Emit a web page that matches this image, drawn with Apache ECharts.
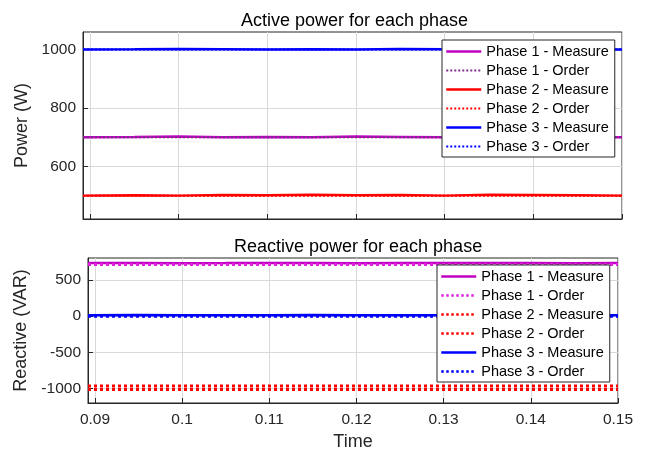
<!DOCTYPE html>
<html>
<head>
<meta charset="utf-8">
<script src="https://cdn.jsdelivr.net/npm/echarts@6/dist/echarts.min.js"></script>
<style>
  html, body { margin: 0; padding: 0; background: #fff; }
  #chart { width: 646px; height: 454px; }
</style>
</head>
<body>
<div id="chart"></div>
<script>
// sample times (s)
const timePts = [0.0892, 0.095, 0.1, 0.105, 0.11, 0.115, 0.12, 0.125, 0.13, 0.135, 0.14, 0.145, 0.15];

// active power (W)
const p1ActiveMeas = [700, 701, 702, 700, 701, 700, 702, 701, 700, 701, 700, 701, 700];
const p1ActiveOrder = [700, 700, 700, 700, 700, 700, 700, 700, 700, 700, 700, 700, 700];
const p2ActiveMeas = [500, 501, 500, 502, 501, 503, 501, 502, 500, 503, 502, 501, 500];
const p2ActiveOrder = [500, 500, 500, 500, 500, 500, 500, 500, 500, 500, 500, 500, 500];
const p3ActiveMeas = [1000, 1001, 1002, 1001, 1000, 1001, 1000, 1002, 1001, 1000, 1001, 1000, 1000];
const p3ActiveOrder = [1000, 1000, 1000, 1000, 1000, 1000, 1000, 1000, 1000, 1000, 1000, 1000, 1000];

// reactive power (VAR)
const p1ReactMeas = [730, 731, 729, 730, 732, 730, 729, 731, 730, 730, 731, 729, 730];
const p1ReactOrder = [712, 712, 712, 712, 712, 712, 712, 712, 712, 712, 712, 712, 712];
const p2ReactMeas = [-965, -966, -964, -965, -967, -965, -964, -966, -965, -965, -964, -966, -965];
const p2ReactOrder = [-1015, -1015, -1015, -1015, -1015, -1015, -1015, -1015, -1015, -1015, -1015, -1015, -1015];
const p3ReactMeas = [12, 13, 11, 12, 12, 13, 11, 12, 12, 13, 12, 11, 12];
const p3ReactOrder = [-4, -4, -4, -4, -4, -4, -4, -4, -4, -4, -4, -4, -4];

// ticks
const timeTicks = [0.09, 0.1, 0.11, 0.12, 0.13, 0.14, 0.15];
const activeTicks = [600, 800, 1000];
const reactTicks = [-1000, -500, 0, 500];

const seriesNames = [
  "Phase 1 - Measure", "Phase 1 - Order",
  "Phase 2 - Measure", "Phase 2 - Order",
  "Phase 3 - Measure", "Phase 3 - Order"
];

const MAGENTA = "#c000c0";
const PURPLE = "#7e2f8e";
const MAGENTA2 = "#e020e0";
const RED = "#ff0000";
const BLUE = "#0000ff";
const FRAME = "#262626";
const GRIDC = "#d9d9d9";
const FONT = "Liberation Sans, Arial, sans-serif";

function pairs(vals) {
  return timePts.map((t, i) => [t, vals[i]]);
}

function line(name, idx, vals, color, type, width) {
  return {
    name: name,
    type: "line",
    xAxisIndex: idx,
    yAxisIndex: idx,
    data: pairs(vals),
    symbol: "none",
    animation: false,
    itemStyle: { color: color },
    lineStyle: { color: color, type: type, width: width }
  };
}

function xAxisCfg(idx, showLabel) {
  return {
    type: "value",
    gridIndex: idx,
    min: 0.0892,
    max: 0.15,
    name: showLabel ? "Time" : "",
    nameLocation: "middle",
    nameGap: 30,
    nameTextStyle: { fontSize: 18, color: FRAME, fontFamily: FONT },
    axisLine: { show: true, onZero: false, lineStyle: { color: FRAME, width: 1 } },
    axisTick: { show: true, inside: true, length: 5, customValues: timeTicks, lineStyle: { color: FRAME } },
    axisLabel: {
      show: showLabel, customValues: timeTicks, margin: 9,
      fontSize: 15.5, color: FRAME, fontFamily: FONT,
      formatter: v => String(v)
    },
    splitLine: { show: true, lineStyle: { color: GRIDC, width: 1 } }
  };
}

function yAxisCfg(idx, min, max, ticks, name, gap) {
  return {
    type: "value",
    gridIndex: idx,
    min: min,
    max: max,
    name: name,
    nameLocation: "middle",
    nameGap: gap,
    nameTextStyle: { fontSize: 18, color: FRAME, fontFamily: FONT },
    axisLine: { show: true, onZero: false, lineStyle: { color: FRAME, width: 1 } },
    axisTick: { show: true, inside: true, length: 5, customValues: ticks, lineStyle: { color: FRAME } },
    axisLabel: {
      customValues: ticks, margin: 7, fontSize: 15.5, color: FRAME, fontFamily: FONT,
      formatter: v => String(v)
    },
    splitLine: { show: true, lineStyle: { color: GRIDC, width: 1 } }
  };
}

function legendCfg(left, top, overrides) {
  return {
    orient: "vertical",
    left: left,
    top: top,
    itemWidth: 35,
    itemHeight: 14,
    itemGap: 4,
    padding: [4, 6, 3, 3],
    backgroundColor: "#fff",
    borderColor: FRAME,
    borderWidth: 1,
    borderRadius: 0,
    selectedMode: false,
    itemStyle: { opacity: 0 },
    lineStyle: { width: 2.5 },
    textStyle: { fontSize: 14.5, lineHeight: 15, color: "#000", fontFamily: FONT },
    data: seriesNames.map(n => Object.assign({ name: n }, overrides[n] || {}))
  };
}

const chart = echarts.init(document.getElementById("chart"), null, { renderer: "canvas" });

chart.setOption({
  backgroundColor: "#fff",
  animation: false,
  title: [
    {
      text: "Active power for each phase",
      left: 236, top: 7,
      textStyle: { fontSize: 18, fontWeight: "normal", color: "#000", fontFamily: FONT }
    },
    {
      text: "Reactive power for each phase",
      left: 229, top: 233,
      textStyle: { fontSize: 18, fontWeight: "normal", color: "#000", fontFamily: FONT }
    }
  ],
  grid: [
    { left: 83, right: 24, top: 32, height: 187, show: true, borderColor: FRAME, borderWidth: 1 },
    { left: 88, right: 28, top: 258, height: 145, show: true, borderColor: FRAME, borderWidth: 1 }
  ],
  xAxis: [xAxisCfg(0, false), xAxisCfg(1, true)],
  yAxis: [
    yAxisCfg(0, 420, 1060, activeTicks, "Power (W)", 42),
    yAxisCfg(1, -1200, 800, reactTicks, "Reactive (VAR)", 47)
  ],
  legend: [
    legendCfg(442, 40, {
      "Phase 1 - Order": { lineStyle: { width: 2 } },
      "Phase 2 - Order": { lineStyle: { width: 2 } },
      "Phase 3 - Order": { lineStyle: { width: 2 } }
    }),
    legendCfg(437, 265, {
      "Phase 1 - Order": { lineStyle: { color: MAGENTA2, width: 2.5 } },
      "Phase 2 - Measure": { lineStyle: { type: "dotted", width: 2.5 } }
    })
  ],
  series: [
    line("Phase 1 - Measure", 0, p1ActiveMeas, MAGENTA, "solid", 2.5),
    line("Phase 1 - Order", 0, p1ActiveOrder, PURPLE, "dotted", 2),
    line("Phase 2 - Measure", 0, p2ActiveMeas, RED, "solid", 2.5),
    line("Phase 2 - Order", 0, p2ActiveOrder, RED, "dotted", 2),
    line("Phase 3 - Measure", 0, p3ActiveMeas, BLUE, "solid", 2.5),
    line("Phase 3 - Order", 0, p3ActiveOrder, BLUE, "dotted", 2),

    line("Phase 1 - Measure", 1, p1ReactMeas, MAGENTA, "solid", 2.5),
    line("Phase 1 - Order", 1, p1ReactOrder, MAGENTA2, "dotted", 3),
    line("Phase 2 - Measure", 1, p2ReactMeas, RED, "dotted", 3),
    line("Phase 2 - Order", 1, p2ReactOrder, RED, "dotted", 3),
    line("Phase 3 - Measure", 1, p3ReactMeas, BLUE, "solid", 2.5),
    line("Phase 3 - Order", 1, p3ReactOrder, BLUE, "dotted", 3)
  ]
});
</script>
</body>
</html>
